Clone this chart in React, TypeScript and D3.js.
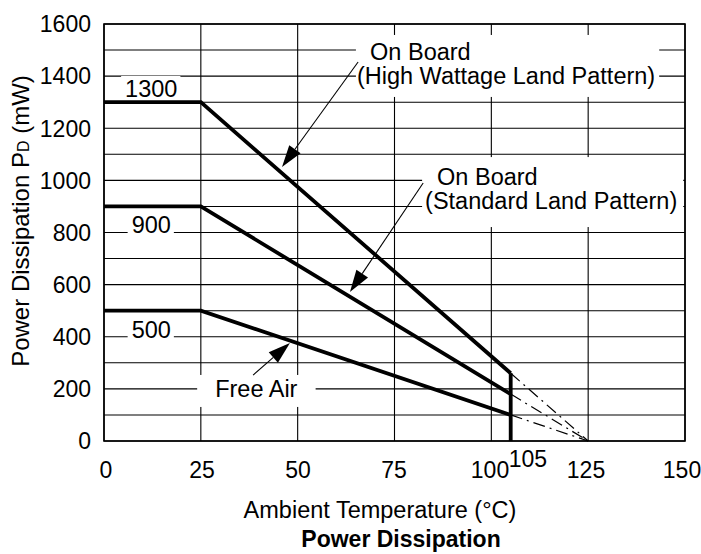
import React, { useEffect, useRef } from 'react';
import * as d3 from 'd3';

// axis ticks (labels) and grid
const tempTicks = [0, 25, 50, 75, 100, 125, 150];
const powerTicks = [0, 200, 400, 600, 800, 1000, 1200, 1400, 1600];
const powerGrid = [0, 100, 200, 300, 400, 500, 600, 700, 800, 900, 1000, 1100, 1200, 1300, 1400, 1500, 1600];

// derating curves (mW) at 0, 25 and 105 °C
const deratingTemps = [0, 25, 105];
const highWattage = [1300, 1300, 260];
const standardPattern = [900, 900, 180];
const freeAir = [500, 500, 100];
const ratedLabels = ['1300', '900', '500'];
const cutoffTemp = 105;
const zeroTemp = 125; // dash-dot extrapolation ends here

const W = 701;
const H = 554;
const FONT = '"Liberation Sans", Arial, Helvetica, sans-serif';

const App: React.FC = () => {
  const svgRef = useRef<SVGSVGElement>(null);

  useEffect(() => {
    if (!svgRef.current) return;
    const svg = d3.select(svgRef.current);
    svg.selectAll('*').remove();

    const x = d3.scaleLinear().domain([0, 150]).range([104, 685]);
    const y = d3.scaleLinear().domain([0, 1600]).range([441, 24]);
    // tick labels sit a little inside the grid lines at both ends
    const xLab = d3.scaleLinear().domain([0, 150]).range([106, 682]);

    const series = [highWattage, standardPattern, freeAir];

    // grid
    const grid = svg.append('g').attr('stroke', '#000').attr('stroke-width', 1.1);
    grid.selectAll('.hgrid')
      .data(powerGrid)
      .enter()
      .append('line')
      .attr('x1', x(0)).attr('x2', x(150))
      .attr('y1', d => y(d)).attr('y2', d => y(d));
    grid.selectAll('.vgrid')
      .data(tempTicks)
      .enter()
      .append('line')
      .attr('y1', y(0)).attr('y2', y(1600))
      .attr('x1', d => x(d)).attr('x2', d => x(d));

    svg.append('rect')
      .attr('x', x(0)).attr('y', y(1600))
      .attr('width', x(150) - x(0)).attr('height', y(0) - y(1600))
      .attr('fill', 'none').attr('stroke', '#000').attr('stroke-width', 1.6);

    // text with a white box behind it, hiding the grid
    const boxedText = (
      lines: { t: number; v: number; s: string; anchor?: string }[],
      pad: [number, number, number, number] // left, top, right, bottom
    ) => {
      const g = svg.append('g');
      lines.forEach(l => {
        g.append('text')
          .attr('x', x(l.t)).attr('y', y(l.v))
          .attr('text-anchor', l.anchor || 'start')
          .attr('font-family', FONT).attr('font-size', 23.5)
          .attr('fill', '#000')
          .text(l.s);
      });
      const bb = (g.node() as SVGGElement).getBBox();
      g.insert('rect', ':first-child')
        .attr('x', bb.x - pad[0]).attr('y', bb.y - pad[1])
        .attr('width', bb.width + pad[0] + pad[2])
        .attr('height', bb.height + pad[1] + pad[3])
        .attr('fill', '#fff');
    };

    boxedText([
      { t: 68.7, v: 1462, s: 'On Board' },
      { t: 65.3, v: 1370, s: '(High Wattage Land Pattern)' },
    ], [1, 4, 4, 8]);
    boxedText([
      { t: 86.0, v: 982, s: 'On Board' },
      { t: 82.9, v: 890, s: '(Standard Land Pattern)' },
    ], [3, 7, 6, 13]);
    boxedText([{ t: 28.7, v: 169, s: 'Free Air' }], [18, 1, 18, 5]);

    const ratedPos = [1320, 798, 395];
    ratedLabels.forEach((lab, i) => {
      boxedText([{ t: 12.2, v: ratedPos[i], s: lab, anchor: 'middle' }], [4, 0, 3, 0]);
    });

    // derating curves
    const line = d3.line<number>()
      .x((_, i) => x(deratingTemps[i]))
      .y(d => y(d));
    series.forEach(s => {
      svg.append('path')
        .datum(s)
        .attr('d', line)
        .attr('fill', 'none')
        .attr('stroke', '#000')
        .attr('stroke-width', 3.8)
        .attr('stroke-linejoin', 'miter');
    });

    // cutoff at 105 °C
    svg.append('line')
      .attr('x1', x(cutoffTemp)).attr('x2', x(cutoffTemp))
      .attr('y1', y(highWattage[2])).attr('y2', y(0))
      .attr('stroke', '#000').attr('stroke-width', 3.8);

    // dash-dot extrapolation to 125 °C
    series.forEach(s => {
      svg.append('line')
        .attr('x1', x(cutoffTemp)).attr('y1', y(s[2]))
        .attr('x2', x(zeroTemp)).attr('y2', y(0))
        .attr('stroke', '#000').attr('stroke-width', 1.2)
        .attr('stroke-dasharray', '12,5,2,5');
    });

    // arrows
    const arrows = [
      { from: [65.6, 1454], to: [45.96, 1051] },
      { from: [82.4, 990], to: [63.5, 572] },
      { from: [38.5, 253], to: [48.0, 376] },
    ];
    arrows.forEach(a => {
      const x1 = x(a.from[0]), y1 = y(a.from[1]);
      const x2 = x(a.to[0]), y2 = y(a.to[1]);
      const ang = Math.atan2(y2 - y1, x2 - x1);
      const len = 22, hw = 7;
      const bx = x2 - len * Math.cos(ang), by = y2 - len * Math.sin(ang);
      svg.append('line')
        .attr('x1', x1).attr('y1', y1).attr('x2', bx).attr('y2', by)
        .attr('stroke', '#000').attr('stroke-width', 1.1);
      const px = -Math.sin(ang) * hw, py = Math.cos(ang) * hw;
      svg.append('path')
        .attr('d', `M${x2},${y2}L${bx + px},${by + py}L${bx - px},${by - py}Z`)
        .attr('fill', '#000');
    });

    // tick labels
    svg.selectAll('.ytick')
      .data(powerTicks)
      .enter()
      .append('text')
      .attr('x', 91)
      .attr('y', d => y(d))
      .attr('dy', '0.36em')
      .attr('text-anchor', 'end')
      .attr('font-family', FONT).attr('font-size', 23)
      .text(d => d);

    svg.selectAll('.xtick')
      .data(tempTicks)
      .enter()
      .append('text')
      .attr('x', d => xLab(d))
      .attr('y', 478)
      .attr('text-anchor', 'middle')
      .attr('font-family', FONT).attr('font-size', 23)
      .text(d => d);

    svg.append('text')
      .attr('x', x(cutoffTemp) - 2)
      .attr('y', 467)
      .attr('font-family', FONT).attr('font-size', 23)
      .text(cutoffTemp);

    // axis titles
    const yl = svg.append('text')
      .attr('transform', `translate(29,${221}) rotate(-90)`)
      .attr('text-anchor', 'middle')
      .attr('font-family', FONT).attr('font-size', 24);
    yl.append('tspan').text('Power Dissipation P');
    yl.append('tspan').attr('font-size', 16).text('D');
    yl.append('tspan').text(' (mW)');

    svg.append('text')
      .attr('x', 380).attr('y', 518)
      .attr('text-anchor', 'middle')
      .attr('font-family', FONT).attr('font-size', 23.5)
      .text('Ambient Temperature (\u00B0C)');

    svg.append('text')
      .attr('x', 401).attr('y', 547)
      .attr('text-anchor', 'middle')
      .attr('font-family', FONT).attr('font-size', 23)
      .attr('font-weight', 'bold')
      .text('Power Dissipation');
  }, []);

  return (
    <svg
      ref={svgRef}
      width={W}
      height={H}
      style={{ position: 'absolute', left: 0, top: 0, background: '#fff' }}
    />
  );
};

export default App;
